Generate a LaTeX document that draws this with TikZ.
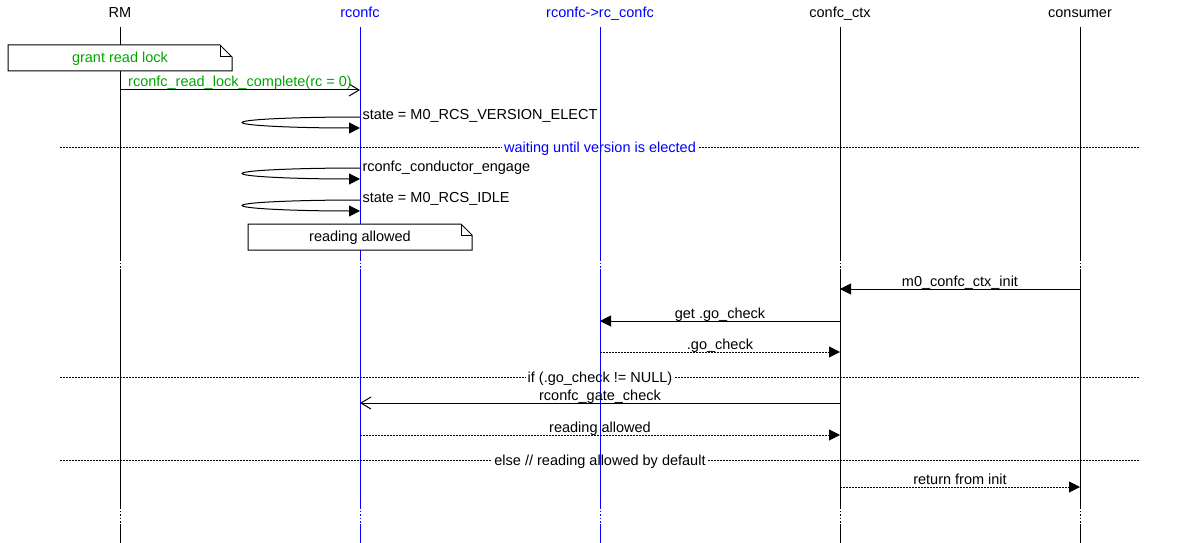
\documentclass[tikz,border=0pt]{standalone}
\usepackage{fontspec}
\setmainfont{Liberation Sans}
\usetikzlibrary{arrows.meta}
\definecolor{mscgreen}{RGB}{0,165,0}
\definecolor{mscblue}{RGB}{0,0,255}
\begin{document}
\begin{tikzpicture}[x=1pt,y=-1pt,line width=1pt,
  every node/.style={font=\fontsize{14.5}{17}\selectfont, inner sep=0pt},
  hdr/.style={anchor=base},
  lbl/.style={anchor=base},
  slbl/.style={anchor=base west},
  brk/.style={dash pattern=on 1.5pt off 2pt},
  sepline/.style={dash pattern=on 2pt off 1pt},
  septext/.style={anchor=base, fill=white, inner xsep=2pt, inner ysep=1pt},
  msg/.style={-{Triangle[length=11pt,width=11pt]}},
  dmsg/.style={msg, dash pattern=on 2pt off 1pt},
  omsg/.style={-{Straight Barb[length=10pt,width=12pt]}},
  selfarr/.style={-{Triangle[length=11pt,width=11pt]}},
  notebg/.style={fill=white, draw=black},
]
\useasboundingbox (0,0) rectangle (1200,543);

% headers
\node[hdr] (RM) at (120,18) {RM};
\node[hdr, text=mscblue] (RC) at (360,18) {rconfc};
\node[hdr, text=mscblue] (RR) at (600,18) {rconfc->rc\_confc};
\node[hdr] (CC) at (840,18) {confc\_ctx};
\node[hdr] (CO) at (1080,18) {consumer};

% separators
\draw[sepline] (60,147) -- (1140,147);
\node[septext, text=mscblue] (s1) at (600,152) {waiting until version is elected};
\draw[sepline] (60,377) -- (1140,377);
\node[septext] (s2) at (600,382) {if (.go\_check != NULL)};
\draw[sepline] (60,460) -- (1140,460);
\node[septext] (s3) at (600,465) {else // reading allowed by default};

% lifelines
\foreach \n/\c in {RM/black,RC/mscblue,RR/mscblue,CC/black,CO/black}{
  \draw[\c] (\n |- 0,27) -- (\n |- 0,259);
  \draw[\c,brk] (\n |- 0,259) -- (\n |- 0,269);
  \draw[\c] (\n |- 0,269) -- (\n |- 0,507);
  \draw[\c,brk] (\n |- 0,507) -- (\n |- 0,524);
  \draw[\c] (\n |- 0,524) -- (\n |- 0,543);
}

% notes
\path[notebg] (8,45) -- (220,45) -- (232,57) -- (232,71) -- (8,71) -- cycle;
\draw (220,45) -- (220,57) -- (232,57);
\node[lbl, text=mscgreen] (n1) at (120,62.5) {grant read lock};

\path[notebg] (248,224) -- (461,224) -- (472,235) -- (472,250) -- (248,250) -- cycle;
\draw (461,224) -- (461,235) -- (472,235);
\node[lbl] (n2) at (360,241) {reading allowed};

% messages
\draw[omsg] (RM |- 0,90) -- (RC |- 0,90);
\node[lbl, text=mscgreen] (m1) at (240,87) {rconfc\_read\_lock\_complete(rc = 0)};

\draw[selfarr] (RC |- 0,117) arc[start angle=90, end angle=270, x radius=118pt, y radius=5.5pt];
\node[slbl] (a1) at (362,119.5) {state = M0\_RCS\_VERSION\_ELECT};

\draw[selfarr] (RC |- 0,168) arc[start angle=90, end angle=270, x radius=118pt, y radius=5.5pt];
\node[slbl] (a2) at (362,171) {rconfc\_conductor\_engage};

\draw[selfarr] (RC |- 0,200) arc[start angle=90, end angle=270, x radius=118pt, y radius=5.5pt];
\node[slbl] (a3) at (362,202.5) {state = M0\_RCS\_IDLE};

\draw[msg] (CO |- 0,289) -- (CC |- 0,289);
\node[lbl] (m2) at (960,286) {m0\_confc\_ctx\_init};

\draw[msg] (CC |- 0,321) -- (RR |- 0,321);
\node[lbl] (m3) at (720,318) {get .go\_check};

\draw[dmsg] (RR |- 0,352) -- (CC |- 0,352);
\node[lbl] (m4) at (720,349) {.go\_check};

\draw[omsg] (CC |- 0,403) -- (RC |- 0,403);
\node[lbl] (m5) at (600,400) {rconfc\_gate\_check};

\draw[dmsg] (RC |- 0,435) -- (CC |- 0,435);
\node[lbl] (m6) at (600,432) {reading allowed};

\draw[dmsg] (CC |- 0,487) -- (CO |- 0,487);
\node[lbl] (m7) at (960,484) {return from init};
\end{tikzpicture}
\end{document}
